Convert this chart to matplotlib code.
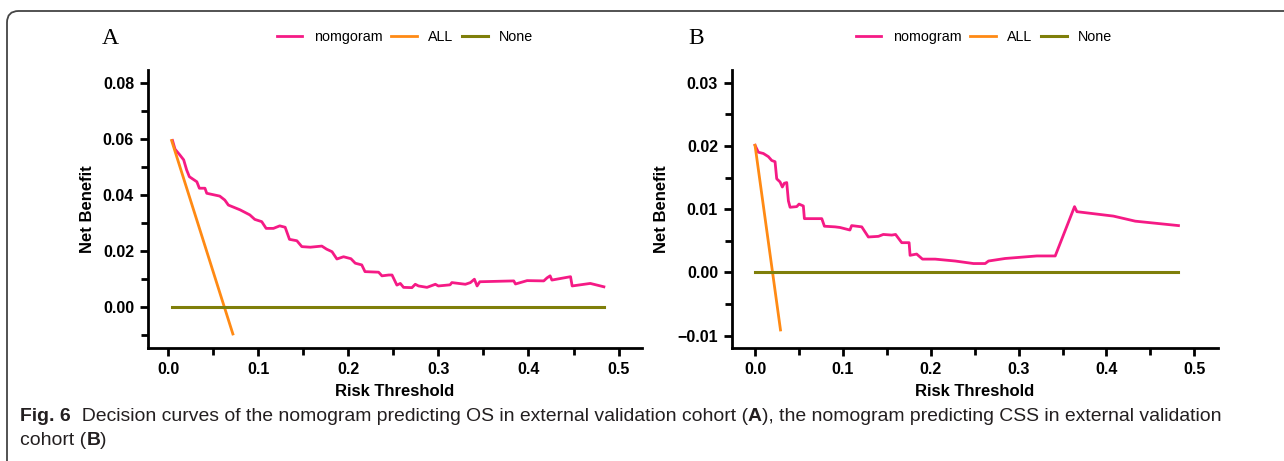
import matplotlib
matplotlib.use("Agg")
import matplotlib.pyplot as plt
from matplotlib.patches import FancyBboxPatch
from matplotlib.ticker import MultipleLocator, FuncFormatter

# panel A: OS, external validation
a_thr = [0.005, 0.0078, 0.013, 0.0174, 0.0207, 0.0237, 0.032, 0.0348, 0.041, 0.043,
         0.0574, 0.063, 0.067, 0.080, 0.0908, 0.0963, 0.104, 0.1089, 0.117, 0.124,
         0.13, 0.1348, 0.143, 0.1485, 0.158, 0.1707, 0.176, 0.182, 0.1874, 0.1948,
         0.203, 0.2078, 0.215, 0.2186, 0.2337, 0.2374, 0.245, 0.2486, 0.254, 0.2578,
         0.2614, 0.2707, 0.2744, 0.278, 0.2874, 0.2967, 0.30, 0.313, 0.315, 0.33,
         0.3356, 0.34, 0.343, 0.346, 0.3837, 0.3856, 0.3985, 0.417, 0.4207, 0.424,
         0.426, 0.4467, 0.4485, 0.4686, 0.4837]
a_nomo = [0.0594, 0.0563, 0.0543, 0.0525, 0.0489, 0.0465, 0.0447, 0.0424, 0.0424, 0.0406,
          0.0396, 0.0382, 0.0364, 0.0347, 0.0329, 0.0313, 0.0305, 0.0281, 0.0281, 0.0290,
          0.0285, 0.0242, 0.0237, 0.0216, 0.0214, 0.0218, 0.0207, 0.0198, 0.0172, 0.0180,
          0.0173, 0.0157, 0.0151, 0.0127, 0.0125, 0.0112, 0.0115, 0.0115, 0.0079, 0.0085,
          0.0071, 0.0070, 0.0082, 0.0076, 0.0071, 0.0082, 0.0076, 0.0080, 0.0088, 0.0082,
          0.0088, 0.0100, 0.0076, 0.0091, 0.0094, 0.0083, 0.0095, 0.0094, 0.0105, 0.0112,
          0.0097, 0.0109, 0.0076, 0.0085, 0.0073]
a_all_thr = [0.004, 0.072]
a_all = [0.0594, -0.0095]
a_none_thr = [0.004, 0.4837]
a_none = [0.0, 0.0]

# panel B: CSS, external validation
b_thr = [0.0, 0.0038, 0.0095, 0.0152, 0.019, 0.0228, 0.0247, 0.0285, 0.0311, 0.0334,
         0.0361, 0.038, 0.0399, 0.0475, 0.0501, 0.055, 0.0562, 0.0626, 0.076, 0.079,
         0.0911, 0.0968, 0.108, 0.110, 0.1215, 0.129, 0.1405, 0.146, 0.1557, 0.160,
         0.167, 0.1754, 0.1765, 0.184, 0.1906, 0.205, 0.2278, 0.2487, 0.262, 0.2658,
         0.2847, 0.3208, 0.3417, 0.3637, 0.3664, 0.408, 0.4328, 0.482]
b_nomo = [0.0201, 0.0190, 0.0188, 0.0183, 0.0177, 0.0175, 0.0148, 0.0143, 0.0135, 0.0141,
          0.0142, 0.0113, 0.0103, 0.0104, 0.0108, 0.0105, 0.0085, 0.0085, 0.0085, 0.0073,
          0.0072, 0.0071, 0.0067, 0.0074, 0.0072, 0.0056, 0.0057, 0.0060, 0.0059, 0.0060,
          0.0047, 0.0047, 0.0027, 0.0029, 0.0021, 0.0021, 0.0018, 0.0014, 0.0014, 0.0018,
          0.0022, 0.0026, 0.0026, 0.0104, 0.0096, 0.0089, 0.0081, 0.0074]
b_all_thr = [0.0, 0.029]
b_all = [0.0201, -0.0091]
b_none_thr = [0.0, 0.482]
b_none = [0.0, 0.0]

PINK = "#f51a85"
ORANGE = "#ff8a14"
OLIVE = "#7f7f0a"

fig = plt.figure(figsize=(12.84, 4.61), dpi=100)

# rounded frame (open to the right / bottom like the page crop)
frame = FancyBboxPatch((7 / 1284, -0.2), 1.2, 1 - 11 / 461 + 0.2,
                       boxstyle="round,pad=0,rounding_size=0.009",
                       transform=fig.transFigure, fill=False,
                       edgecolor="#444444", linewidth=1.3, mutation_aspect=1284 / 461)
fig.patches.append(frame)


def fmt(decimals):
    return FuncFormatter(lambda v, pos: f"{v:.{decimals}f}".replace("-", "\u2212"))


def panel(rect, letter, letter_x, leg_x, nomo_label, thr, nomo, all_thr, all_v,
          none_thr, none_v, xlim, ylim, ymajor, yminor):
    ax = fig.add_axes(rect)
    l1, = ax.plot(thr, nomo, color=PINK, lw=2.0)
    l2, = ax.plot(all_thr, all_v, color=ORANGE, lw=2.0)
    l3, = ax.plot(none_thr, none_v, color=OLIVE, lw=2.2)
    ax.set_xlim(*xlim)
    ax.set_ylim(*ylim)
    ax.xaxis.set_major_locator(MultipleLocator(0.1))
    ax.xaxis.set_minor_locator(MultipleLocator(0.05))
    ax.yaxis.set_major_locator(MultipleLocator(ymajor))
    ax.yaxis.set_minor_locator(MultipleLocator(yminor))
    ax.yaxis.set_major_formatter(fmt(2))
    ax.xaxis.set_major_formatter(fmt(1))
    for s in ["top", "right"]:
        ax.spines[s].set_visible(False)
    for s in ["left", "bottom"]:
        ax.spines[s].set_linewidth(2.0)
    ax.tick_params(which="major", length=6, width=2.0, labelsize=11.5, pad=4)
    ax.tick_params(which="minor", length=5, width=2.0)
    for lab in ax.get_xticklabels() + ax.get_yticklabels():
        lab.set_fontweight("bold")
        lab.set_family("Liberation Sans")
    ax.set_xlabel("Risk Threshold", fontsize=12, fontweight="bold",
                  family="Liberation Sans", labelpad=5)
    ax.set_ylabel("Net Benefit", fontsize=12, fontweight="bold",
                  family="Liberation Sans", labelpad=6)
    fig.text(letter_x / 1284, 1 - 38 / 461, letter, family="Liberation Serif",
             fontsize=17, ha="center", va="center")
    fig.legend([l1, l2, l3], [nomo_label, "ALL", "None"], loc="center",
               bbox_to_anchor=(leg_x / 1284, 1 - 37 / 461), ncol=3, frameon=False,
               prop={"family": "Liberation Sans", "size": 10.3},
               handlelength=1.8, handletextpad=0.8, columnspacing=0.6)
    return ax


panel([148 / 1284, 1 - 348.3 / 461, 494 / 1284, 278.3 / 461], "A", 110, 405,
      "nomgoram", a_thr, a_nomo, a_all_thr, a_all, a_none_thr, a_none,
      (-0.0222, 0.526), (-0.0146, 0.0845), 0.02, 0.01)
panel([732 / 1284, 1 - 348.3 / 461, 486 / 1284, 278.3 / 461], "B", 696, 984,
      "nomogram", b_thr, b_nomo, b_all_thr, b_all, b_none_thr, b_none,
      (-0.0262, 0.527), (-0.0120, 0.032), 0.01, 0.005)

# caption, with bold pieces placed one after another, sized to fit 1200 px
renderer = fig.canvas.get_renderer()
cap_font = ["Liberation Sans", "DejaVu Sans"]
line1 = [("Fig. 6", "bold"),
         ("  Decision curves of the nomogram predicting OS in external validation cohort (", "normal"),
         ("A", "bold"),
         ("), the nomogram predicting CSS in external validation", "normal")]
line2 = [("cohort (", "normal"), ("B", "bold"), (")", "normal")]


def put_line(x_px, y_px, pieces, size):
    x = x_px / 1284
    texts = []
    for s, w in pieces:
        t = fig.text(x, 1 - y_px / 461, s, fontweight=w, family=cap_font,
                     fontsize=size, color="#231f20", va="baseline", ha="left")
        x += t.get_window_extent(renderer).width / fig.bbox.width
        texts.append(t)
    return texts, (x - x_px / 1284) * fig.bbox.width


probe, width = put_line(20, 422, line1, 13)
for t in probe:
    t.remove()
cap_size = 13 * 1198 / width
put_line(20, 421, line1, cap_size)
put_line(20, 445, line2, cap_size)

fig.savefig("out.png", dpi=100)
